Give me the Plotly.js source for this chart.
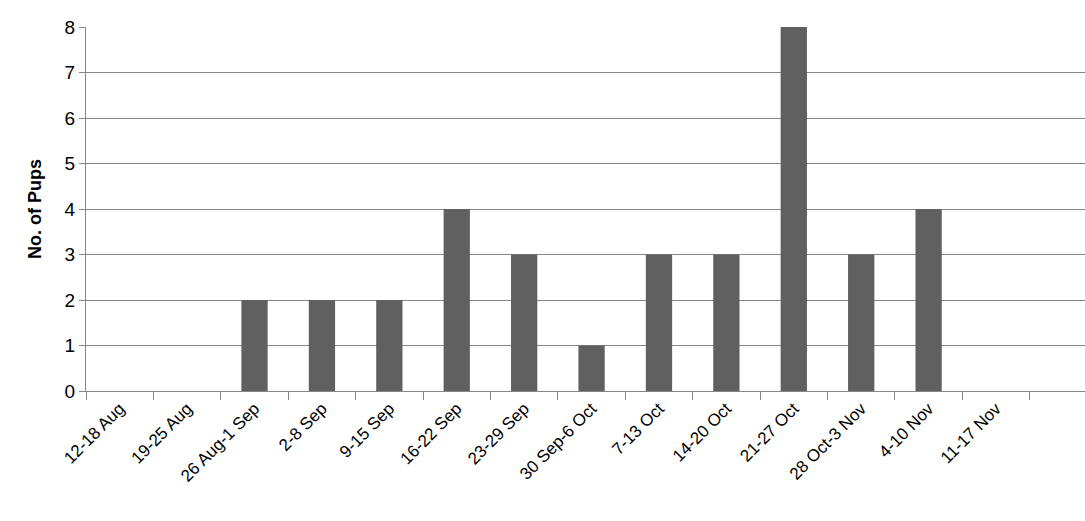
<!DOCTYPE html>
<html><head><meta charset="utf-8">
<script src="https://cdn.plot.ly/plotly-3.0.1.min.js"></script>
<style>body{margin:0;background:#fff}#chart{width:1085px;height:521px}</style>
</head><body><div id="chart"></div>
<script>
const weeks = ['12-18 Aug','19-25 Aug','26 Aug-1 Sep','2-8 Sep','9-15 Sep','16-22 Sep','23-29 Sep',
  '30 Sep-6 Oct','7-13 Oct','14-20 Oct','21-27 Oct','28 Oct-3 Nov','4-10 Nov','11-17 Nov'];
const pups = [0,0,2,2,2,4,3,1,3,3,8,3,4,0];
const FONT = '"Liberation Sans", Arial, sans-serif';

Plotly.newPlot('chart', [{
  type: 'bar', x: weeks, y: pups, width: 0.39,
  marker: { color: '#606060' }
}], {
  margin: { t: 27, b: 130, l: 86, r: 0 },
  paper_bgcolor: '#fff', plot_bgcolor: '#fff',
  font: { family: FONT, size: 18, color: '#000' },
  showlegend: false,
  xaxis: {
    type: 'category', range: [-0.5, 14.32], tickangle: -45,
    ticks: 'outside', tickson: 'boundaries', ticklen: 8, tickcolor: '#868686',
    showline: true, linecolor: '#868686', showgrid: false,
    tickfont: { family: FONT, size: 17 }
  },
  yaxis: {
    range: [0, 8], dtick: 1, gridcolor: '#868686', gridwidth: 1,
    showline: true, linecolor: '#868686', ticks: 'outside', ticklen: 6, tickcolor: '#868686',
    zeroline: false, tickfont: { family: FONT, size: 19 },
    title: { text: '<b>No. of Pups</b>', font: { family: FONT, size: 18 }, standoff: 18 }
  }
}, { displayModeBar: false });
</script></body></html>
